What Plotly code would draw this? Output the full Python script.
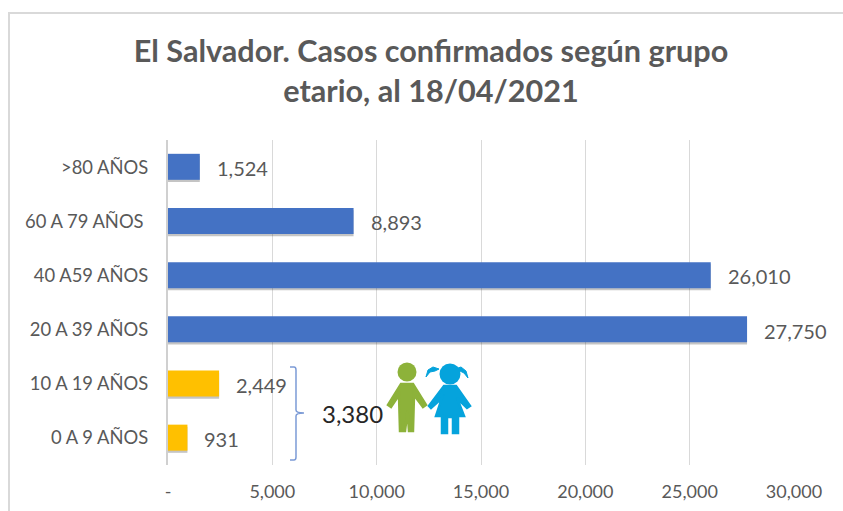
import plotly.graph_objects as go

categories = ["0 A 9 AÑOS", "10 A 19 AÑOS", "20 A 39 AÑOS", "40 A59 AÑOS", "60 A 79 AÑOS\u00a0", ">80 AÑOS"]
values = [931, 2449, 27750, 26010, 8893, 1524]
labels = ["931", "2,449", "27,750", "26,010", "8,893", "1,524"]
colors = ["#FFC000", "#FFC000", "#4472C4", "#4472C4", "#4472C4", "#4472C4"]
x_ticks = [0, 5000, 10000, 15000, 20000, 25000, 30000]
x_ticklabels = ["-", "5,000", "10,000", "15,000", "20,000", "25,000", "30,000"]
title_text = "El Salvador. Casos confirmados según grupo<br>etario, al 18/04/2021"
group_total = "3,380"

W, H = 843, 511
L, R, T, B = 168, 794, 140, 465
FONT = "Lato, Carlito, Calibri, sans-serif"


def px(x):
    return (x - L) / (R - L)


def py(y):
    return (B - y) / (B - T)


def path(points):
    cmds = []
    for p in points:
        if isinstance(p, str):
            cmds.append(p)
        else:
            cmds.append(f"{px(p[0]):.5f},{py(p[1]):.5f}")
    return " ".join(cmds)


def blob(pts, color, width=2.5):
    d = "M" + " L".join(f"{px(a):.5f},{py(b):.5f}" for a, b in pts) + " Z"
    return dict(type="path", path=d, xref="paper", yref="paper", fillcolor=color,
                line=dict(color=color, width=width), layer="above")


def circle(cx, cy, r, color):
    return dict(type="circle", xref="paper", yref="paper", x0=px(cx - r), x1=px(cx + r),
                y0=py(cy + r), y1=py(cy - r), fillcolor=color, line=dict(width=0), layer="above")


def stroke(d_pts, color, width):
    d = "M" + " L".join(f"{px(a):.5f},{py(b):.5f}" for a, b in d_pts)
    return dict(type="path", path=d, xref="paper", yref="paper",
                line=dict(color=color, width=width), layer="above")


fig = go.Figure()
fig.add_trace(go.Bar(
    y=categories, x=values, orientation="h", width=0.48, offset=-0.275,
    marker=dict(color="rgba(60,60,60,0.30)", line=dict(width=0)), hoverinfo="skip",
))
fig.add_trace(go.Bar(
    y=categories, x=values, orientation="h", width=0.48, offset=-0.235,
    marker=dict(color=colors, line=dict(width=0)),
))

annotations = [
    dict(x=v, y=c, text=t, xref="x", yref="y", xanchor="left", xshift=15, yshift=-1, showarrow=False,
         font=dict(family=FONT, size=20, color="#595959"))
    for v, c, t in zip(values, categories, labels)
]
annotations.append(dict(xref="paper", yref="paper", x=px(320), y=py(413), text=group_total, xanchor="left",
                        yanchor="middle", showarrow=False, font=dict(family=FONT, size=24, color="#262626")))

green = "#8DB23A"
blue = "#05A3DC"
shapes = [
    # chart frame
    stroke([(9, 511), (9, 13), (843, 13)], "#D9D9D9", 2),
    # bracket
    dict(type="path", xref="paper", yref="paper", layer="above", line=dict(color="#7C9BD6", width=1.5),
         path=path(["M", (290, 367), "L", (294, 367), "Q", (296, 367), (296, 370), "L", (296, 410),
                    "Q", (296, 413), (304, 413), "Q", (296, 413), (296, 416), "L", (296, 457),
                    "Q", (296, 460), (294, 460), "L", (290, 460)])),
    # boy
    circle(407, 372, 9.5, green),
    blob([(401, 384), (413, 384), (426, 405), (423, 407), (414, 395), (413, 431), (409, 431), (407.5, 411),
          (405, 431), (400, 431), (399, 395), (391, 407), (388, 405)], green),
    # girl
    circle(450, 374, 10.5, blue),
    blob([(444, 386), (456, 386), (470, 406), (467, 408), (457, 398), (464, 416), (458, 416), (458, 433),
          (453, 433), (453, 417), (447, 417), (447, 433), (442, 433), (442, 416), (436, 416), (442, 398),
          (431, 408), (429, 406)], blue),
    blob([(426, 377), (428, 370), (433, 367), (439, 369), (435, 371), (430, 372)], blue, 1),
    blob([(468, 378), (466, 371), (461, 367), (455, 369), (460, 371), (464, 373)], blue, 1),
]

fig.update_layout(
    width=W, height=H, autosize=False,
    margin=dict(l=L, r=W - R, t=T, b=H - B),
    paper_bgcolor="white", plot_bgcolor="white",
    barmode="overlay", showlegend=False, bargap=0.5,
    title=dict(text=title_text, x=431 / W, xanchor="center", y=1 - 62 / H, yanchor="middle",
               font=dict(family=FONT, size=30.6, color="#595959", weight="bold")),
    xaxis=dict(range=[0, 30000], tickvals=x_ticks, ticktext=x_ticklabels, showgrid=True, gridcolor="#D9D9D9",
               gridwidth=1.3, zeroline=False, ticks="outside", ticklen=10, tickcolor="rgba(0,0,0,0)",
               tickfont=dict(family=FONT, size=18, color="#595959"), showline=False, automargin=False),
    yaxis=dict(categoryorder="array", categoryarray=categories, showgrid=False, zeroline=False, showline=True,
               linecolor="#D0D0D0", linewidth=2, ticks="outside", ticklen=14, tickcolor="rgba(0,0,0,0)",
               tickfont=dict(family=FONT, size=18.4, color="#595959"), automargin=False),
    annotations=annotations, shapes=shapes,
)
fig.write_html("out.html", config={"displayModeBar": False},
               post_script="document.body.style.margin='0';document.documentElement.style.overflow='hidden';")
